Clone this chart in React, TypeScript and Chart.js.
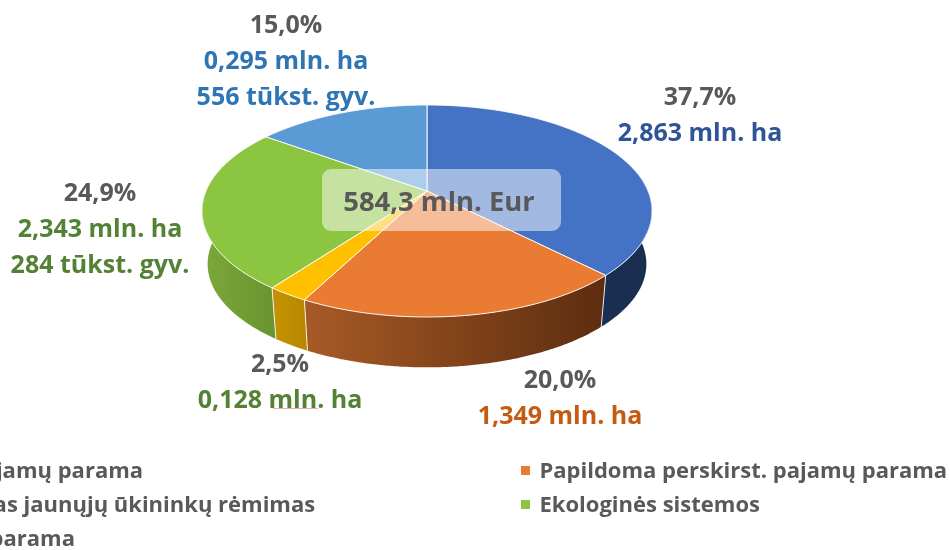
import React, { useEffect, useRef } from "react";
import { Chart, PieController, ArcElement } from "chart.js";

Chart.register(PieController, ArcElement);

const categories = [
  "Bazinė pajamų parama",
  "Papildoma perskirst. pajamų parama",
  "Papildomas jaunųjų ūkininkų rėmimas",
  "Ekologinės sistemos",
  "Susietoji parama",
];
const shares = [37.7, 20.0, 2.5, 24.9, 15.0];
const areaLines = [
  ["2,863 mln. ha"],
  ["1,349 mln. ha"],
  ["0,128 mln. ha"],
  ["2,343 mln. ha", "284 tūkst. gyv."],
  ["0,295 mln. ha", "556 tūkst. gyv."],
];
const totalLabel = "584,3 mln. Eur";
const topColors = ["#4472C4", "#EA7B32", "#FFC000", "#8CC540", "#5B9BD5"];
const sideFrom = ["#1A2E52", "#A85A26", "#C69200", "#7CA83B", "#3F6D99"];
const sideTo = ["#1A2E52", "#5C2D0F", "#B88800", "#6A942F", "#3F6D99"];
const labelColors = ["#2F5597", "#C55A11", "#548235", "#548235", "#2E75B6"];
const labelAnchors = [
  [700, 97.5],
  [560, 380.5],
  [280, 365],
  [100, 193.5],
  [286, 26],
];

const FONT = '"Open Sans", sans-serif';
const CX = 427;
const CY = 211;
const RX = 225;
const RY = 106;
const APEX = -20;
const DEPTH = 53;
const BOTTOM_SCALE = 0.975;
const k = APEX / RY;
const a = RX * Math.sqrt(1 - k * k);

function project(theta: number, r: number, bottom: boolean): [number, number] {
  const u = r * Math.cos(theta);
  const v = r * Math.sin(theta);
  const d = 1 + k * v;
  const x = (a * u) / d;
  const y = (RY * v + APEX) / d;
  if (bottom) return [CX + BOTTOM_SCALE * x, CY + DEPTH + BOTTOM_SCALE * y];
  return [CX + x, CY + y];
}

const pie3d = {
  id: "pie3d",
  beforeDatasetDraw(chart: any) {
    const ctx = chart.ctx as CanvasRenderingContext2D;
    const arcs = chart.getDatasetMeta(0).data as any[];
    const limitA = Math.asin(k); // silhouette on the right, slightly behind centre
    const limitB = Math.PI - limitA;
    const STEP = Math.PI / 360;

    arcs.forEach((arc, i) => {
      const s = Math.max(arc.startAngle, limitA);
      const e = Math.min(arc.endAngle, limitB);
      if (e <= s) return;
      const top: [number, number][] = [];
      const low: [number, number][] = [];
      for (let t = s; t < e; t += STEP) {
        top.push(project(t, 1, false));
        low.push(project(t, 1, true));
      }
      top.push(project(e, 1, false));
      low.push(project(e, 1, true));
      const xs = top.map((p) => p[0]);
      const g = ctx.createLinearGradient(Math.min(...xs), 0, Math.max(...xs), 0);
      g.addColorStop(0, sideFrom[i]);
      g.addColorStop(1, sideTo[i]);
      ctx.beginPath();
      top.forEach((p, n) => (n ? ctx.lineTo(p[0], p[1]) : ctx.moveTo(p[0], p[1])));
      low.reverse().forEach((p) => ctx.lineTo(p[0], p[1]));
      ctx.closePath();
      ctx.fillStyle = g;
      ctx.fill();
    });

    // separators between the side walls
    ctx.strokeStyle = "rgba(255,255,255,0.85)";
    ctx.lineWidth = 1;
    arcs.forEach((arc) => {
      const t = arc.endAngle;
      if (t <= limitA || t >= limitB) return;
      const p = project(t, 1, false);
      const q = project(t, 1, true);
      ctx.beginPath();
      ctx.moveTo(p[0], p[1]);
      ctx.lineTo(q[0], q[1]);
      ctx.stroke();
    });

    // top surface
    arcs.forEach((arc, i) => {
      const o = project(0, 0, false);
      ctx.beginPath();
      ctx.moveTo(o[0], o[1]);
      for (let t = arc.startAngle; t < arc.endAngle; t += STEP) {
        const p = project(t, 1, false);
        ctx.lineTo(p[0], p[1]);
      }
      const p = project(arc.endAngle, 1, false);
      ctx.lineTo(p[0], p[1]);
      ctx.closePath();
      ctx.fillStyle = topColors[i];
      ctx.fill();
      ctx.strokeStyle = "rgba(255,255,255,0.9)";
      ctx.lineWidth = 1;
      ctx.lineJoin = "round";
      ctx.stroke();
    });
    return false;
  },
  afterDatasetsDraw(chart: any) {
    const ctx = chart.ctx as CanvasRenderingContext2D;

    // centre box
    ctx.fillStyle = "rgba(255,255,255,0.5)";
    ctx.beginPath();
    ctx.roundRect(322, 169, 239, 62, 9);
    ctx.fill();
    ctx.textAlign = "center";
    ctx.textBaseline = "middle";
    ctx.fillStyle = "#595959";
    ctx.font = `bold 27.4px ${FONT}`;
    ctx.fillText(totalLabel, 439, 203);

    // data labels
    ctx.font = `bold 25px ${FONT}`;
    shares.forEach((v, i) => {
      const [x, y] = labelAnchors[i];
      ctx.fillStyle = "#595959";
      ctx.fillText(v.toFixed(1).replace(".", ",") + "%", x, y);
      ctx.fillStyle = labelColors[i];
      areaLines[i].forEach((line, n) => ctx.fillText(line, x, y + 36 * (n + 1)));
    });

    // proofing underline seen under one label
    ctx.strokeStyle = "rgba(232,130,130,0.65)";
    ctx.lineWidth = 1;
    ctx.beginPath();
    ctx.moveTo(273, 408.5);
    ctx.lineTo(318, 408.5);
    ctx.stroke();

    // legend
    ctx.font = `bold 22px ${FONT}`;
    ctx.textAlign = "left";
    categories.forEach((name, i) => {
      const col = i % 2;
      const row = Math.floor(i / 2);
      const x = col ? 539.5 : -110;
      const y = 472 + row * 34;
      ctx.fillStyle = topColors[i];
      ctx.fillRect(col ? 521 : x - 19, 466 + row * 34, 9, 9);
      ctx.fillStyle = "#595959";
      ctx.fillText(name, x, y);
    });
  },
};

export default function App() {
  const ref = useRef<HTMLCanvasElement | null>(null);
  useEffect(() => {
    const chart = new Chart(ref.current as HTMLCanvasElement, {
      type: "pie",
      data: {
        labels: categories,
        datasets: [{ data: shares, backgroundColor: topColors }],
      },
      options: {
        animation: false,
        responsive: false,
        events: [],
        plugins: { legend: { display: false }, tooltip: { enabled: false } } as any,
      },
      plugins: [pie3d],
    } as any);
    return () => chart.destroy();
  }, []);
  return (
    <div style={{ position: "absolute", left: 0, top: 0, width: 950, height: 550 }}>
      <canvas ref={ref} width={950} height={550} style={{ display: "block" }} />
    </div>
  );
}
